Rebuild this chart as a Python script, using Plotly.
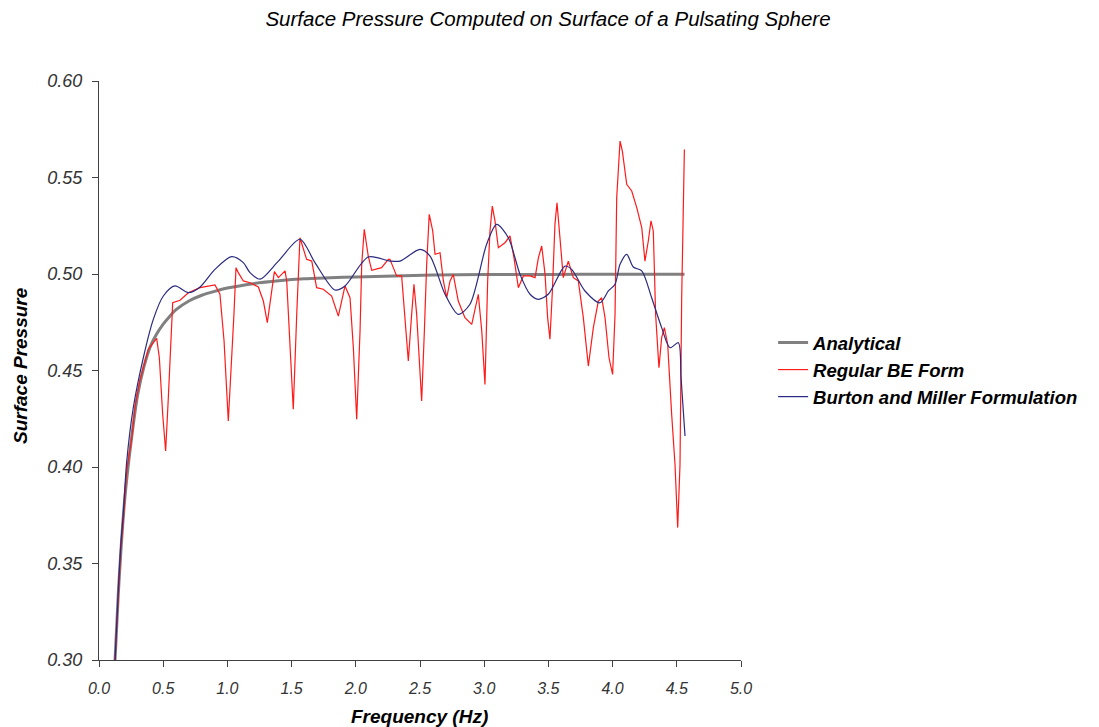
import plotly.graph_objects as go

# ---------------- data ----------------
analytical_f = [0.125, 0.15, 0.2, 0.25, 0.3, 0.35, 0.4, 0.45, 0.5, 0.55, 0.6, 0.7, 0.8, 0.9,
                1.0, 1.2, 1.4, 1.6, 1.8, 2.0, 2.3, 2.6, 3.0, 3.5, 4.0, 4.56]
analytical_p = [0.300, 0.334, 0.383, 0.413, 0.437, 0.452, 0.4625, 0.469, 0.474, 0.478,
                0.4815, 0.486, 0.489, 0.491, 0.4927, 0.495, 0.4965, 0.4975, 0.498, 0.4985,
                0.499, 0.4995, 0.4997, 0.4998, 0.4999, 0.4999]

regular_f = [0.125, 0.150, 0.169, 0.189, 0.216, 0.255, 0.280, 0.319, 0.358, 0.384,
             0.449, 0.470, 0.496, 0.519, 0.540, 0.558, 0.574, 0.631, 0.696, 0.787,
             0.903, 0.942, 0.974, 1.007, 1.033, 1.051, 1.067, 1.085, 1.124, 1.176,
             1.241, 1.280, 1.311, 1.340, 1.366, 1.397, 1.449, 1.462, 1.488, 1.513,
             1.540, 1.565, 1.617, 1.657, 1.695, 1.747, 1.812, 1.864, 1.916, 1.955,
             1.981, 2.007, 2.033, 2.046, 2.066, 2.097, 2.124, 2.201, 2.253, 2.266,
             2.292, 2.318, 2.357, 2.383, 2.409, 2.435, 2.453, 2.474, 2.495, 2.513,
             2.534, 2.552, 2.572, 2.599, 2.617, 2.656, 2.682, 2.708, 2.734, 2.759,
             2.798, 2.850, 2.903, 2.954, 2.981, 3.006, 3.027, 3.045, 3.063, 3.084,
             3.110, 3.162, 3.201, 3.232, 3.266, 3.305, 3.357, 3.396, 3.422, 3.448,
             3.474, 3.494, 3.512, 3.531, 3.551, 3.567, 3.590, 3.616, 3.655, 3.694,
             3.733, 3.772, 3.811, 3.850, 3.889, 3.915, 3.941, 3.972, 4.000, 4.019,
             4.032, 4.058, 4.076, 4.110, 4.149, 4.188, 4.227, 4.252, 4.278, 4.299,
             4.317, 4.335, 4.361, 4.382, 4.403, 4.429, 4.460, 4.486, 4.507, 4.525,
             4.538, 4.551, 4.559]
regular_p = [0.300, 0.334, 0.3565, 0.372, 0.398, 0.415, 0.431, 0.445, 0.455, 0.461,
             0.4667, 0.4566, 0.4273, 0.4083, 0.436, 0.4636, 0.4851, 0.4864, 0.4903, 0.4929,
             0.4943, 0.4895, 0.4653, 0.4238, 0.4532, 0.4791, 0.5033, 0.5007, 0.4964, 0.4955,
             0.4933, 0.486, 0.4748, 0.4886, 0.5012, 0.4981, 0.5016, 0.4964, 0.4618, 0.4299,
             0.4791, 0.5188, 0.5076, 0.5067, 0.4929, 0.4921, 0.4886, 0.4782, 0.4938, 0.4877,
             0.4618, 0.4247, 0.4705, 0.505, 0.5232, 0.5093, 0.5019, 0.5033, 0.5076, 0.5076,
             0.5033, 0.499, 0.499, 0.4756, 0.4549, 0.4791, 0.4947, 0.4791, 0.4549, 0.4342,
             0.4705, 0.505, 0.5309, 0.5223, 0.5102, 0.511, 0.4964, 0.4877, 0.4964, 0.4998,
             0.486, 0.4774, 0.4739, 0.4895, 0.4705, 0.4428, 0.4964, 0.5223, 0.5352, 0.5275,
             0.5136, 0.5162, 0.5197, 0.5084, 0.4929, 0.499, 0.499, 0.4981, 0.5084, 0.5145,
             0.4998, 0.4774, 0.4662, 0.4912, 0.5257, 0.5369, 0.5188, 0.4981, 0.5067, 0.4981,
             0.4964, 0.4774, 0.4523, 0.4722, 0.486, 0.4877, 0.4774, 0.4566, 0.448, 0.4791,
             0.5395, 0.5689, 0.5637, 0.5465, 0.543, 0.5344, 0.524, 0.5067, 0.5171, 0.5275,
             0.5223, 0.4791, 0.4514, 0.467, 0.4722, 0.4636, 0.4273, 0.4014, 0.3686, 0.4014,
             0.4877, 0.543, 0.5645]

burton_f = [0.125, 0.150, 0.169, 0.189, 0.216, 0.267, 0.345, 0.423, 0.501, 0.592,
            0.696, 0.787, 0.903, 1.033, 1.124, 1.176, 1.254, 1.397, 1.565, 1.682,
            1.838, 1.916, 2.097, 2.266, 2.344, 2.500, 2.578, 2.695, 2.798, 2.889,
            3.019, 3.097, 3.188, 3.279, 3.357, 3.420, 3.499, 3.629, 3.681, 3.785,
            3.902, 3.967, 4.019, 4.058, 4.110, 4.161, 4.227, 4.304, 4.382, 4.447,
            4.512, 4.533, 4.564]
burton_p = [0.300, 0.336, 0.359, 0.376, 0.403, 0.4307, 0.4566, 0.4765, 0.4886, 0.4938,
            0.4903, 0.4933, 0.5024, 0.509, 0.5059, 0.5007, 0.4973, 0.5067, 0.518, 0.5059,
            0.4917, 0.4938, 0.5088, 0.5067, 0.5067, 0.5128, 0.5093, 0.4895, 0.4791, 0.4843,
            0.5154, 0.5257, 0.5188, 0.4998, 0.4895, 0.4869, 0.4895, 0.5041, 0.5024, 0.4912,
            0.4851, 0.4912, 0.4947, 0.505, 0.5102, 0.5036, 0.5016, 0.4877, 0.4722, 0.4618,
            0.4644, 0.4463, 0.4161]

x_ticks = [0.0, 0.5, 1.0, 1.5, 2.0, 2.5, 3.0, 3.5, 4.0, 4.5, 5.0]
y_ticks = [0.30, 0.35, 0.40, 0.45, 0.50, 0.55, 0.60]

# ---------------- figure ----------------
FONT = "Liberation Sans, Arial, sans-serif"
W, H = 1091, 719          # page adds an 8px body margin
ML, MR, MT, MB = 91, 358, 73, 67
PW, PH = W - ML - MR, H - MT - MB

fig = go.Figure()
fig.add_trace(go.Scatter(x=analytical_f, y=analytical_p, mode="lines",
                         name="<b><i>Analytical</i></b>",
                         line=dict(color="#808080", width=3, shape="spline", smoothing=0.6)))
fig.add_trace(go.Scatter(x=regular_f, y=regular_p, mode="lines",
                         name="<b><i>Regular BE Form</i></b>",
                         line=dict(color="#FF1A1A", width=1.2)))
fig.add_trace(go.Scatter(x=burton_f, y=burton_p, mode="lines",
                         name="<b><i>Burton and Miller Formulation</i></b>",
                         line=dict(color="#2A2A80", width=1.2, shape="spline", smoothing=0.8)))

axis_common = dict(
    showgrid=False, zeroline=False, showline=True, linecolor="#404040", linewidth=1.3,
    ticks="outside", ticklen=6, tickcolor="#404040", tickwidth=1.3, mirror=False,
)

fig.update_layout(
    width=W, height=H,
    margin=dict(l=ML, r=MR, t=MT, b=MB),
    paper_bgcolor="white", plot_bgcolor="white",
    title=dict(text="<i>Surface Pressure Computed on Surface of a Pulsating Sphere</i>",
               x=540 / W, xref="container", xanchor="center",
               y=1 - 11 / H, yref="container", yanchor="middle",
               font=dict(family=FONT, size=20.5, color="black")),
    legend=dict(x=1.050, xanchor="left", y=(PH - (370 - 8 - MT)) / PH, yanchor="middle",
                font=dict(family=FONT, size=18.5, color="black"),
                tracegroupgap=0, itemwidth=30, bgcolor="rgba(0,0,0,0)"),
    showlegend=True,
    annotations=[
        dict(text="<b><i>Frequency (Hz)</i></b>", xref="paper", yref="paper",
             x=(411 - ML) / PW, y=-(708 - (H - MB)) / PH, xanchor="center", yanchor="middle",
             showarrow=False, font=dict(family=FONT, size=19, color="black")),
        dict(text="<b><i>Surface Pressure</i></b>", xref="paper", yref="paper",
             x=(12 - ML) / PW, y=(PH - (366 - 8 - MT)) / PH, xanchor="center", yanchor="middle",
             textangle=-90, showarrow=False, font=dict(family=FONT, size=19, color="black")),
    ],
)

fig.update_xaxes(range=[0, 5.0], tickvals=x_ticks,
                 ticktext=[f"{v:.1f}" for v in x_ticks],
                 tickfont=dict(family=FONT, size=16, color="#333333", style="italic"),
                 ticklabelstandoff=8,
                 **axis_common)
fig.update_yaxes(range=[0.30, 0.60], tickvals=y_ticks,
                 ticktext=[f"{v:.2f}" for v in y_ticks],
                 tickfont=dict(family=FONT, size=18, color="#333333", style="italic"),
                 ticklabelstandoff=6,
                 **axis_common)

fig.write_html("out.html")
